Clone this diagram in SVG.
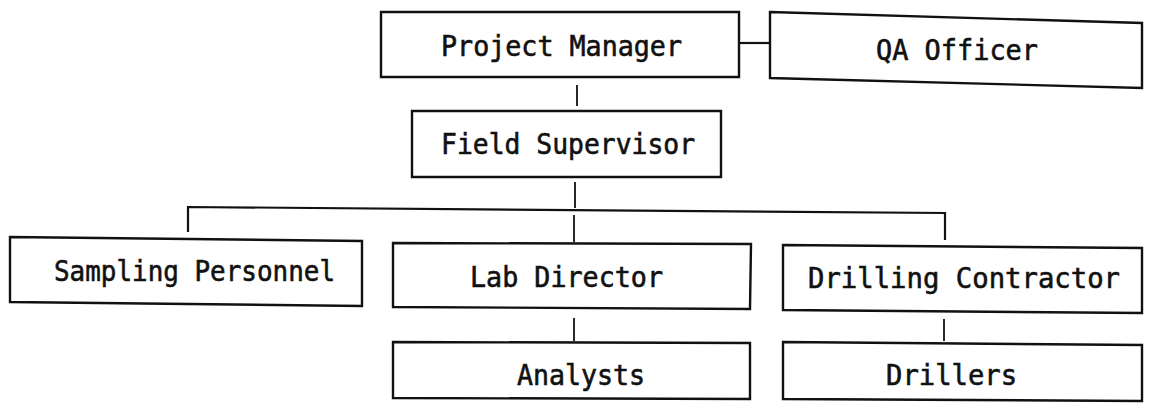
<svg xmlns="http://www.w3.org/2000/svg" width="1151" height="413" viewBox="0 0 1151 413">
  <style>
    .box { fill: #fff; stroke: #111; stroke-width: 2.4; stroke-linejoin: miter; }
    .link { fill: none; stroke: #111; stroke-width: 2.2; }
    .tick { fill: none; stroke: #111; stroke-width: 1.8; }
    .lbl { font-family: "DejaVu Sans Mono", "Liberation Mono", monospace; font-size: 28px; fill: #111; stroke: #111; stroke-width: 0.6; }
  </style>
  <rect width="1151" height="413" fill="#fff"/>

  <!-- reporting lines -->
  <g id="connectors">
    <line class="link" x1="739" y1="43" x2="770" y2="43"/>
    <line class="tick" x1="577" y1="85" x2="577" y2="106"/>
    <line class="tick" x1="575" y1="182" x2="575" y2="208"/>
    <polyline class="link" points="188,232 188,207 945,213 945,240"/>
    <line class="tick" x1="574" y1="215" x2="574" y2="242"/>
    <line class="tick" x1="574" y1="318" x2="574" y2="341"/>
    <line class="tick" x1="944" y1="319" x2="944" y2="341"/>
  </g>

  <g id="project-manager">
    <polygon class="box" points="381,12 739,12 739,77 381,77"/>
    <text class="lbl" x="441" y="56" textLength="241" lengthAdjust="spacingAndGlyphs">Project Manager</text>
  </g>

  <g id="qa-officer">
    <polygon class="box" points="770,12 1142,23 1142,88 770,78"/>
    <text class="lbl" x="876" y="60" textLength="162" lengthAdjust="spacingAndGlyphs">QA Officer</text>
  </g>

  <g id="field-supervisor">
    <polygon class="box" points="412,111 721,111 721,177 412,177"/>
    <text class="lbl" x="441" y="154" textLength="254" lengthAdjust="spacingAndGlyphs">Field Supervisor</text>
  </g>

  <g id="sampling-personnel">
    <polygon class="box" points="10,237 362,241 362,306 10,302"/>
    <text class="lbl" x="54" y="281" textLength="281" lengthAdjust="spacingAndGlyphs">Sampling Personnel</text>
  </g>

  <g id="lab-director">
    <polygon class="box" points="393,243 751,244 750,309 393,307"/>
    <text class="lbl" x="470" y="287" textLength="193" lengthAdjust="spacingAndGlyphs">Lab Director</text>
  </g>

  <g id="analysts">
    <polygon class="box" points="393,342 750,343 750,399 393,398"/>
    <text class="lbl" x="517" y="385" textLength="128" lengthAdjust="spacingAndGlyphs">Analysts</text>
  </g>

  <g id="drilling-contractor">
    <polygon class="box" points="783,245 1142,248 1142,313 783,310"/>
    <text class="lbl" x="808" y="288" textLength="312" lengthAdjust="spacingAndGlyphs">Drilling Contractor</text>
  </g>

  <g id="drillers">
    <polygon class="box" points="783,342 1142,345 1142,401 783,399"/>
    <text class="lbl" x="886" y="385" textLength="131" lengthAdjust="spacingAndGlyphs">Drillers</text>
  </g>
</svg>
